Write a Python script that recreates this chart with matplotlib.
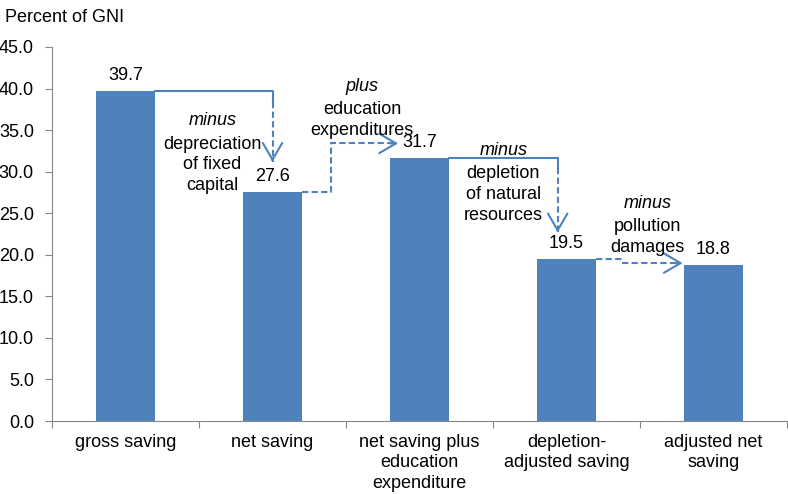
import numpy as np
import matplotlib.pyplot as plt

plt.rcParams["font.family"] = ["Liberation Sans", "DejaVu Sans"]

# Data
categories = ["gross saving", "net saving", "net saving plus\neducation\nexpenditure",
              "depletion-\nadjusted saving", "adjusted net\nsaving"]
values = [39.7, 27.6, 31.7, 19.5, 18.8]
step_words = ["minus", "plus", "minus", "minus"]
step_texts = ["depreciation\nof fixed\ncapital", "education\nexpenditures",
              "depletion\nof natural\nresources", "pollution\ndamages"]

blue = "#4F81BD"
grey = "#868686"
fs = 13

fig = plt.figure(figsize=(7.88, 4.94), dpi=100)
ax = fig.add_axes([52 / 788, 73 / 494, 735 / 788, 374 / 494])

x = np.arange(len(values))
w = 0.4
ax.bar(x, values, width=w, color=blue, zorder=2)

# value labels
for xi, v in zip(x, values):
    ax.annotate(f"{v:.1f}", (xi, v), xytext=(0, 5), textcoords="offset points",
                ha="center", va="bottom", fontsize=fs)

# connectors
dash = (0, (3, 1.6))
lw = 1.5

def head(x0, y0, x1, y1):
    ax.annotate("", xy=(x1, y1), xytext=(x0, y0),
                arrowprops=dict(arrowstyle="->,head_length=0.6,head_width=0.35",
                                color=blue, lw=lw, shrinkA=0, shrinkB=0,
                                mutation_scale=20))

# gross -> net
ax.plot([x[0] + w / 2, 1.0, 1.0], [values[0], values[0], values[0] - 1.3], color=blue, lw=lw)
ax.plot([1.0, 1.0], [values[0] - 1.3, values[1] + 3.6], color=blue, lw=lw, ls=dash)
head(1.0, values[1] + 4.0, 1.0, values[1] + 3.6)

# net -> net plus education
ax.plot([x[1] + w / 2, 1.40, 1.40, 1.85], [values[1], values[1], 33.4, 33.4],
        color=blue, lw=lw, ls=dash)
head(1.80, 33.4, 1.854, 33.4)

# -> depletion adjusted
ax.plot([x[2] + w / 2, 2.94, 2.94], [values[2], values[2], values[2] - 1.2], color=blue, lw=lw)
ax.plot([2.94, 2.94], [values[2] - 1.2, values[3] + 3.2], color=blue, lw=lw, ls=dash)
head(2.94, values[3] + 3.6, 2.94, values[3] + 3.2)

# -> adjusted net saving
ax.plot([x[3] + w / 2, 3.38], [values[3], values[3]], color=blue, lw=lw, ls=dash)
ax.plot([3.38, 3.78], [values[4] + 0.2, values[4] + 0.2], color=blue, lw=lw, ls=dash)
head(3.74, values[4] + 0.2, 3.79, values[4] + 0.2)

# step annotations
text_pos = [(0.59, 36.1), (1.61, 40.2), (2.57, 32.5), (3.55, 26.2)]
for (tx, ty), word, txt in zip(text_pos, step_words, step_texts):
    ax.text(tx, ty, word, ha="center", va="center", fontsize=fs, style="italic")
    ax.annotate(txt, (tx, ty), xytext=(0, -10.5), textcoords="offset points",
                ha="center", va="top", fontsize=fs, linespacing=1.3)

# axes styling
ax.set_ylim(0, 45)
ax.set_xlim(-0.5, len(values) - 0.5)
ax.set_yticks(np.arange(0, 46, 5))
ax.set_yticklabels([f"{t:.1f}" for t in np.arange(0, 46, 5)], fontsize=fs)
ax.set_xticks(np.arange(-0.5, len(values), 1))
ax.set_xticklabels([])
ax.set_xticks(x, minor=True)
ax.set_xticklabels(categories, minor=True, fontsize=fs, linespacing=1.3)
ax.tick_params(axis="x", which="minor", length=0, pad=9)
ax.tick_params(axis="x", which="major", length=5, color=grey)
ax.tick_params(axis="y", length=5, color=grey, pad=8)
for s in ["top", "right"]:
    ax.spines[s].set_visible(False)
for s in ["left", "bottom"]:
    ax.spines[s].set_color(grey)

fig.text(5 / 788, 1 - 17 / 494, "Percent of GNI", fontsize=fs, va="center", ha="left")

fig.savefig("out.png", dpi=100)
